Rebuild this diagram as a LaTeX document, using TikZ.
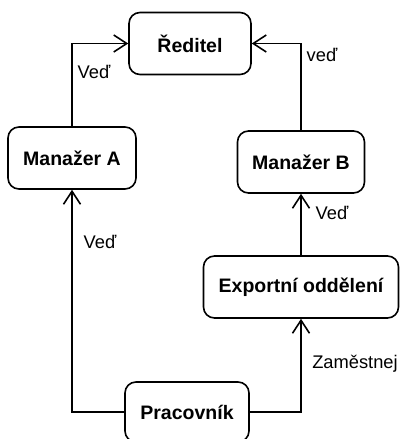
\documentclass[tikz,border=0pt]{standalone}
\usepackage{fontspec}
\setmainfont{Liberation Sans}
\usetikzlibrary{arrows.meta}
\begin{document}
\begin{tikzpicture}[x=1pt,y=-1pt,
  entity/.style={draw, line width=1.6pt, rounded corners=11pt, inner sep=0pt,
    minimum height=62pt, font=\fontsize{19.5}{22}\selectfont\bfseries},
  rel/.style={line width=1.6pt, -{Straight Barb[length=13pt,width=17pt,line width=1.6pt]}},
  lbl/.style={font=\fontsize{18.3}{21}\selectfont, inner sep=0pt}]
  \useasboundingbox (0,0) rectangle (402,439);
  % boxes
  \node[entity, minimum width=122pt] (red) at (190,43.5) {Ředitel};
  \node[entity, minimum width=128pt] (manA) at (72,158) {Manažer A};
  \node[entity, minimum width=127pt] (manB) at (301,162) {Manažer B};
  \node[entity, minimum width=195pt] (exp) at (301,287) {Exportní oddělení};
  \node[entity, minimum width=124pt, minimum height=60pt] (prac) at (187,412) {Pracovník};
  % relations
  \draw[rel] (manA.north) |- (red.west);
  \draw[rel] (manB.north) |- (red.east);
  \draw[rel] (exp.north) -- (manB.south);
  \draw[rel] (prac.west) -| (manA.south);
  \draw[rel] (prac.east) -| (exp.south);
  % labels
  \node[lbl] (l1) at (94,72) {Veď};
  \node[lbl] (l2) at (322,55) {veď};
  \node[lbl] (l3) at (332,213) {Veď};
  \node[lbl] (l4) at (100,242) {Veď};
  \node[lbl] (l5) at (355,364) {Zaměstnej};
\end{tikzpicture}
\end{document}
